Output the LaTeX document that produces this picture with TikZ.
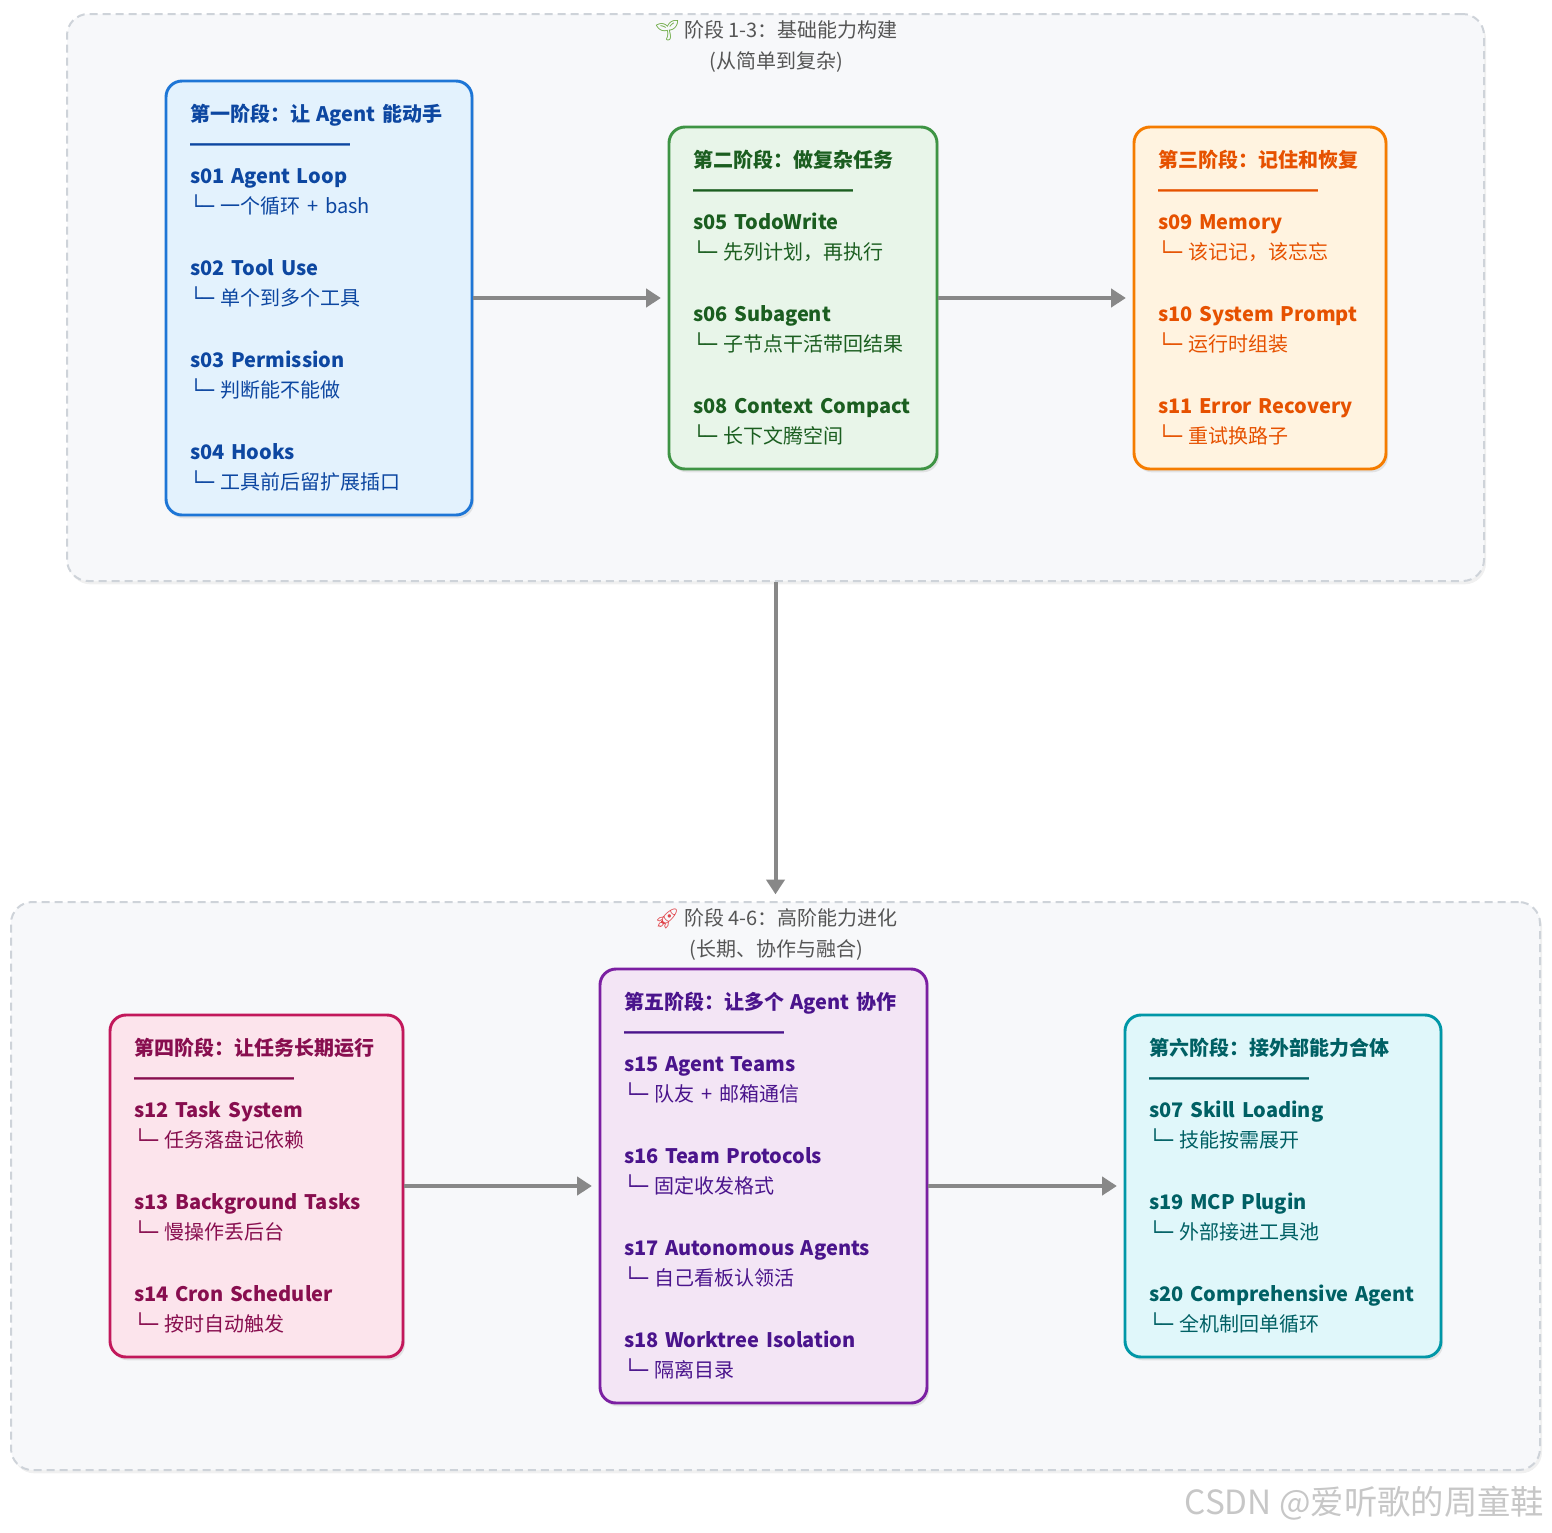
\documentclass[tikz,border=0pt]{standalone}
\usepackage{fontspec}
\setmainfont{Noto Sans CJK SC}
\newfontfamily\emojifont{Noto Emoji}
\newfontfamily\linefont{DejaVu Sans}
\usetikzlibrary{arrows.meta,shadows}

\definecolor{bluefill}{HTML}{E3F2FD}\definecolor{blueline}{HTML}{1E76D6}\definecolor{bluetext}{HTML}{0D47A1}
\definecolor{greenfill}{HTML}{E8F5E9}\definecolor{greenline}{HTML}{3E9444}\definecolor{greentext}{HTML}{1B5E20}
\definecolor{orangefill}{HTML}{FFF3E0}\definecolor{orangeline}{HTML}{F57C00}\definecolor{orangetext}{HTML}{E65100}
\definecolor{pinkfill}{HTML}{FCE4EC}\definecolor{pinkline}{HTML}{C2185B}\definecolor{pinktext}{HTML}{880E4F}
\definecolor{purplefill}{HTML}{F3E5F5}\definecolor{purpleline}{HTML}{7B1FA2}\definecolor{purpletext}{HTML}{4A148C}
\definecolor{tealfill}{HTML}{E0F7FA}\definecolor{tealline}{HTML}{0097A7}\definecolor{tealtext}{HTML}{006064}
\definecolor{groupfill}{HTML}{F7F8FA}\definecolor{groupline}{HTML}{CED3D9}\definecolor{grouptext}{HTML}{555555}
\definecolor{arrowgray}{HTML}{888888}

\newcommand{\phase}[1]{\textbf{#1}\\\textbf{━━━━━━━━}\\}
\newcommand{\lesson}[2]{\textbf{#1}\\{\linefont\bfseries └─}\hspace{5pt}#2}

\tikzset{
    box/.style={rounded corners=12pt, line width=2.2pt, inner xsep=18pt, inner ysep=0pt,
        align=left, font=\fontsize{15}{23}\selectfont,
        drop shadow={opacity=0.18, shadow xshift=1.5pt, shadow yshift=-2.5pt}},
    group/.style={rounded corners=16pt, draw=groupline, fill=groupfill, line width=1.5pt,
        dash pattern=on 6pt off 3.75pt, inner sep=0pt,
        drop shadow={opacity=0.12, shadow xshift=1.5pt, shadow yshift=-2.5pt}},
    grouptitle/.style={align=center, text=grouptext, font=\fontsize{15}{23}\selectfont},
    arr/.style={draw=arrowgray, line width=3pt, -{Triangle[length=11pt,width=13.5pt]}, shorten >=5pt}
}

\begin{document}
\begin{tikzpicture}[x=0.75pt, y=-0.75pt]
    \useasboundingbox (0,0) rectangle (1552,1532);

    % two stage groups
    \node[group, minimum width=1062.75pt, minimum height=425.25pt] (top) at (775.5,297.5) {};
    \node[group, minimum width=1146.75pt, minimum height=426pt] (bot) at (775.5,1186) {};
    \node[grouptitle] (toptitle) at (776,46.5) {{\emojifont\textcolor[HTML]{5DA130}{🌱}} 阶段 1-3：基础能力构建\\(从简单到复杂)};
    \node[grouptitle] (bottitle) at (776,934.5) {{\emojifont\textcolor[HTML]{E0454B}{🚀}} 阶段 4-6：高阶能力进化\\(长期、协作与融合)};

    \begin{scope}[every node/.style={box}]
        \node[draw=blueline, fill=bluefill, text=bluetext, minimum width=229.5pt, text width=193.5pt, minimum height=325.5pt] (b1) at (319,298) {
            \phase{第一阶段：让 Agent 能动手}
            \lesson{s01 Agent Loop}{一个循环 + bash}\\[23pt]
            \lesson{s02 Tool Use}{单个到多个工具}\\[23pt]
            \lesson{s03 Permission}{判断能不能做}\\[23pt]
            \lesson{s04 Hooks}{工具前后留扩展插口}};
        \node[draw=greenline, fill=greenfill, text=greentext, minimum width=201pt, text width=165pt, minimum height=256.5pt] (b2) at (803,298) {
            \phase{第二阶段：做复杂任务}
            \lesson{s05 TodoWrite}{先列计划，再执行}\\[23pt]
            \lesson{s06 Subagent}{子节点干活带回结果}\\[23pt]
            \lesson{s08 Context Compact}{长下文腾空间}};
        \node[draw=orangeline, fill=orangefill, text=orangetext, minimum width=189pt, text width=153pt, minimum height=256.5pt] (b3) at (1260,298) {
            \phase{第三阶段：记住和恢复}
            \lesson{s09 Memory}{该记记，该忘忘}\\[23pt]
            \lesson{s10 System Prompt}{运行时组装}\\[23pt]
            \lesson{s11 Error Recovery}{重试换路子}};
        \node[draw=pinkline, fill=pinkfill, text=pinktext, minimum width=219.75pt, text width=183.75pt, minimum height=256.5pt] (b4) at (256.5,1186) {
            \phase{第四阶段：让任务长期运行}
            \lesson{s12 Task System}{任务落盘记依赖}\\[23pt]
            \lesson{s13 Background Tasks}{慢操作丢后台}\\[23pt]
            \lesson{s14 Cron Scheduler}{按时自动触发}};
        \node[draw=purpleline, fill=purplefill, text=purpletext, minimum width=245.25pt, text width=209.25pt, minimum height=325.5pt] (b5) at (763.5,1186) {
            \phase{第五阶段：让多个 Agent 协作}
            \lesson{s15 Agent Teams}{队友 + 邮箱通信}\\[23pt]
            \lesson{s16 Team Protocols}{固定收发格式}\\[23pt]
            \lesson{s17 Autonomous Agents}{自己看板认领活}\\[23pt]
            \lesson{s18 Worktree Isolation}{隔离目录}};
        \node[draw=tealline, fill=tealfill, text=tealtext, minimum width=237pt, text width=201pt, minimum height=256.5pt] (b6) at (1283,1186) {
            \phase{第六阶段：接外部能力合体}
            \lesson{s07 Skill Loading}{技能按需展开}\\[23pt]
            \lesson{s19 MCP Plugin}{外部接进工具池}\\[23pt]
            \lesson{s20 Comprehensive Agent}{全机制回单循环}};
    \end{scope}

    \begin{scope}[every edge/.style={arr}]
        \path (b1) edge (b2);
        \path (b2) edge (b3);
        \path (top) edge (bot);
        \path (b4) edge (b5);
        \path (b5) edge (b6);
    \end{scope}

    \node[anchor=east, text=black!22, font=\fontsize{25}{28}\selectfont] (mark) at (1549,1503) {CSDN @爱听歌的周童鞋};
\end{tikzpicture}
\end{document}
